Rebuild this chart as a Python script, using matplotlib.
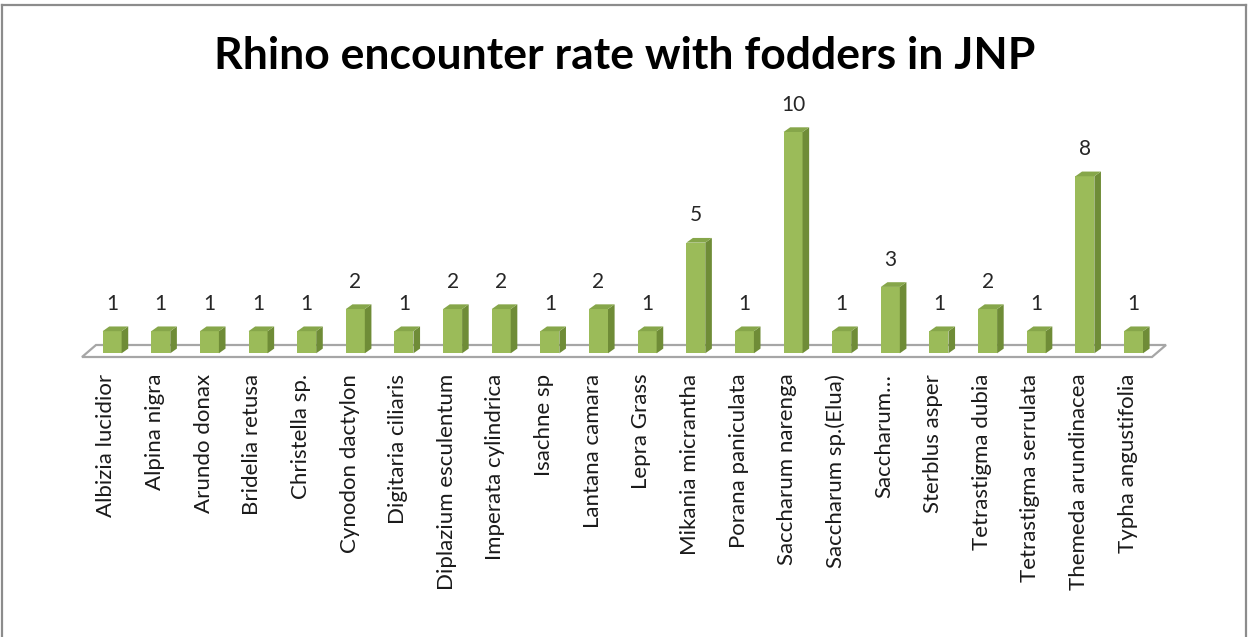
import matplotlib.pyplot as plt
from matplotlib.patches import Polygon
from matplotlib.lines import Line2D

# Fodder species and number of rhino encounters
species = [
    "Albizia lucidior", "Alpina nigra", "Arundo donax", "Bridelia retusa",
    "Christella sp.", "Cynodon dactylon", "Digitaria ciliaris",
    "Diplazium esculentum", "Imperata cylindrica", "Isachne sp",
    "Lantana camara", "Lepra Grass", "Mikania micrantha", "Porana paniculata",
    "Saccharum narenga", "Saccharum sp.(Elua)", "Saccharum…", "Sterblus asper",
    "Tetrastigma dubia", "Tetrastigma serrulata", "Themeda arundinacea",
    "Typha angustifolia",
]
encounters = [1, 1, 1, 1, 1, 2, 1, 2, 2, 1, 2, 1, 5, 1, 10, 1, 3, 1, 2, 1, 8, 1]

W, H = 1249, 637
plt.rcParams["font.family"] = ["Lato", "DejaVu Sans"]
fig = plt.figure(figsize=(W / 100, H / 100), dpi=100)

# axes placed so the floor front edge spans the plot width
px_unit = 22.13  # pixels per encounter
y_base = 353.3   # pixel row of value 0
top_px, bot_px = 90, 357
left_px, right_px = 82, 1152
ax = fig.add_axes([left_px / W, 1 - bot_px / H,
                   (right_px - left_px) / W, (bot_px - top_px) / H])
n = len(species)
ax.set_xlim(-0.5, n - 0.5)
ax.set_ylim((y_base - bot_px) / px_unit, (y_base - top_px) / px_unit)
for s in ax.spines.values():
    s.set_visible(False)

# floor of the pseudo 3D chart
x_px = (right_px - left_px) / n
fdx = 14 / x_px
fdy = 12 / px_unit
y0 = (y_base - bot_px) / px_unit
floor = Polygon([(-0.5, y0), (n - 0.5, y0), (n - 0.5 + fdx, y0 + fdy),
                 (-0.5 + fdx, y0 + fdy)], closed=True, facecolor="white",
                edgecolor="#a6a6a6", linewidth=1.6, clip_on=False, zorder=1)
ax.add_patch(floor)

# bars: front face + side + top
shift = 0.12
bw = 0.39
ddx = 6.6 / x_px
ddy = 4.7 / px_unit
front, side, top = "#9bbb59", "#6f8c37", "#86a64a"
xs = [i + shift for i in range(n)]
bars = ax.bar(xs, encounters, width=bw, color=front, edgecolor="none", zorder=3)
for bar, v in zip(bars, encounters):
    x0 = bar.get_x()
    x1 = x0 + bar.get_width()
    ax.add_patch(Polygon([(x1, 0), (x1 + ddx, ddy), (x1 + ddx, v + ddy), (x1, v)],
                         closed=True, facecolor=side, edgecolor="none", zorder=3))
    ax.add_patch(Polygon([(x0, v), (x1, v), (x1 + ddx, v + ddy), (x0 + ddx, v + ddy)],
                         closed=True, facecolor=top, edgecolor="none", zorder=3))
    ax.annotate(str(v), (bar.get_x() + bar.get_width() / 2, v + ddy),
                xytext=(0, 9), textcoords="offset points", ha="center",
                va="bottom", fontsize=15, color="#262626")

ax.set_yticks([])
ax.set_xticks(range(n))
ax.set_xticklabels(species, rotation=90, fontsize=16, color="#1a1a1a")
ax.tick_params(axis="x", length=0, pad=12)

fig.suptitle("Rhino encounter rate with fodders in JNP", x=0.5, y=1 - 36 / H,
             va="top", fontsize=32, fontweight="bold")

# outer chart border
for (xa, ya) in [((2 / W, 1246 / W), (1 - 5 / H, 1 - 5 / H)),
                 ((2 / W, 2 / W), (1 - 5 / H, 0)),
                 ((1246 / W, 1246 / W), (1 - 5 / H, 0))]:
    fig.add_artist(Line2D(xa, ya, color="#8c8c8c", linewidth=1.6))

fig.savefig("out.png", dpi=100)
